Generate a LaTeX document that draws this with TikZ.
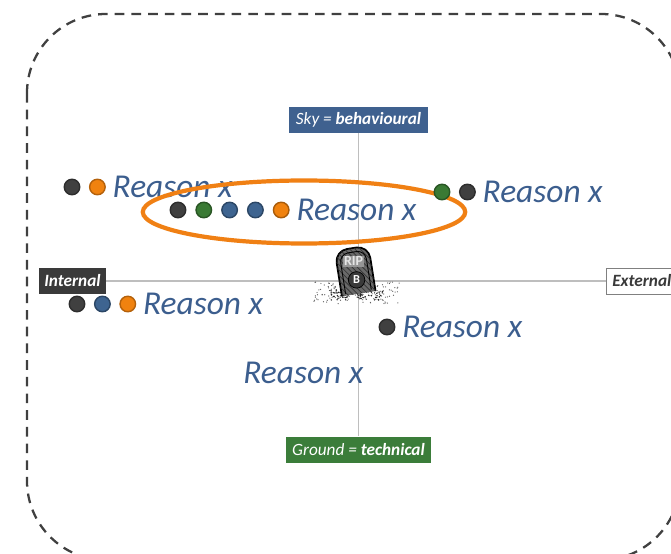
\documentclass[tikz,border=0pt]{standalone}
\usepackage{fontspec}
\setmainfont{Carlito}
\usepackage{tikz}
\usetikzlibrary{shapes.geometric, positioning, patterns}
\definecolor{skyblue}{RGB}{63,97,143}
\definecolor{groundgreen}{RGB}{59,125,58}
\definecolor{intdark}{RGB}{58,58,58}
\definecolor{reasonblue}{RGB}{60,94,142}
\definecolor{axisgray}{RGB}{190,190,190}
\definecolor{framegray}{RGB}{64,64,64}
\definecolor{dotdark}{RGB}{64,64,64}
\definecolor{dotgreen}{RGB}{58,122,52}
\definecolor{dotblue}{RGB}{62,100,144}
\definecolor{dotorange}{RGB}{240,130,15}
\definecolor{ringorange}{RGB}{240,128,20}
\definecolor{tombgray}{RGB}{105,105,105}
\tikzset{
  axisbox/.style={rectangle, minimum height=0.52cm, inner sep=2pt, font=\fontsize{9.8}{11}\selectfont\itshape},
  dot/.style={circle, minimum size=0.31cm, inner sep=0pt, line width=0.8pt},
  reason/.style={inner sep=0pt, font=\fontsize{19}{22}\selectfont\itshape, text=reasonblue},
  axis/.style={line width=0.6pt, color=axisgray}
}

\begin{document}
\begin{tikzpicture}[x=0.02cm, y=-0.02cm]
\clip (0,0) rectangle (671,553);
% dashed frame, runs past the right and bottom edges
\draw[framegray, line width=1.3pt, dash pattern=on 5.5pt off 4pt, rounded corners=45pt]
  (27,14) rectangle (680,560);

% axis labels
\node[axisbox, fill=skyblue, text=white, minimum width=2.78cm] (sky) at (358.5,120) {Sky = \textbf{behavioural}};
\node[axisbox, fill=groundgreen, text=white, minimum width=2.9cm] (ground) at (358.5,449.5) {Ground = \textbf{technical}};
\node[axisbox, fill=intdark, text=white, minimum width=1.34cm] (internal) at (72.5,281) {\textbf{Internal}};
\node[axisbox, draw=gray, fill=white, text=intdark, anchor=west, minimum width=1.7cm, align=left] (external) at (606,281) {\textbf{External}\hspace{8pt}};

\draw[axis] (sky.south) -- (ground.north);
\draw[axis] (internal.east) -- (external.west);

% tombstone on the crossing
\pgfmathsetseed{11}
\foreach \k in {1,...,150} {
  \pgfmathsetmacro\gx{357+43*(2*rnd-1)}
  \pgfmathsetmacro\gy{293+11*(2*rnd-1)}
  \fill[black!65] (\gx,\gy) circle (0.35pt);
}
\foreach \k in {1,...,70} {
  \pgfmathsetmacro\gx{357+26*(2*rnd-1)}
  \pgfmathsetmacro\gy{295+5*(2*rnd-1)}
  \fill[black!85] (\gx,\gy) circle (0.45pt);
}
\begin{scope}[shift={(355,270)}, rotate=9]
  \draw[line width=1pt, fill=tombgray, rounded corners=7pt] (-17,24) -- (-17,-22) -- (17,-22) -- (17,24);
  \path[pattern=north west lines, pattern color=black!80, rounded corners=7pt] (-17,24) -- (-17,-22) -- (17,-22) -- (17,24);
  \draw[black, line width=0.5pt, rounded corners=5pt] (-13,22) -- (-13,-18) -- (13,-18) -- (13,22);
  \node[font=\bfseries\fontsize{8}{8}\selectfont, text=black!10, fill=tombgray!70, inner sep=0.5pt] (rip) at (0,-9) {RIP};
  \node[circle, fill=intdark, draw=black, text=white, font=\bfseries\scriptsize, minimum size=0.33cm, inner sep=0pt] (tombB) at (0,10) {B};
\end{scope}

% reasons
\node[dot, fill=dotdark, draw=dotdark!70!black] (a1) at (72,187) {};
\node[dot, fill=dotorange, draw=dotorange!75!black, right=0.17cm of a1] (a2) {};
\node[reason, anchor=west, right=0.13cm of a2] (ra) {Reason x};

\foreach \c [count=\i] in {dotdark, dotgreen, dotblue, dotblue, dotorange}
  \node[dot, fill=\c, draw=\c!70!black] (m\i) at ({178+(\i-1)*25.8},210) {};
\node[reason, anchor=west, right=0.13cm of m5] (rm) {Reason x};
\node[draw=ringorange, line width=2.4pt, ellipse, minimum width=6.45cm, minimum height=1.26cm] (focus) at (304,212) {};

\node[dot, fill=dotgreen, draw=dotgreen!70!black] (b1) at (442,192) {};
\node[dot, fill=dotdark, draw=dotdark!70!black, right=0.17cm of b1] (b2) {};
\node[reason, anchor=west, right=0.13cm of b2] (rb) {Reason x};

\node[dot, fill=dotdark, draw=dotdark!70!black] (c1) at (77,304) {};
\node[dot, fill=dotblue, draw=dotblue!70!black, right=0.17cm of c1] (c2) {};
\node[dot, fill=dotorange, draw=dotorange!75!black, right=0.17cm of c2] (c3) {};
\node[reason, anchor=west, right=0.13cm of c3] (rc) {Reason x};

\node[dot, fill=dotdark, draw=dotdark!70!black] (d1) at (387,327) {};
\node[reason, anchor=west, right=0.13cm of d1] (rd) {Reason x};

\node[reason, anchor=west] (re) at (243,373) {Reason x};
\end{tikzpicture}
\end{document}
